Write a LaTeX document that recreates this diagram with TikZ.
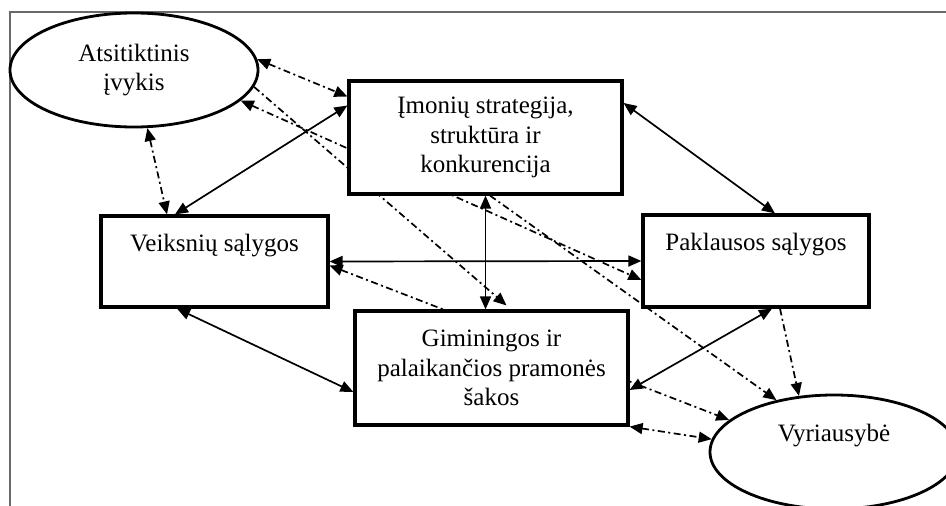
\documentclass[tikz,border=0pt]{standalone}
\usepackage{fontspec}
\setmainfont{Liberation Serif}
\usetikzlibrary{arrows.meta,shapes.geometric,backgrounds}

\definecolor{framegray}{RGB}{105,105,105}
\tikzset{
  box/.style={draw, line width=3.2pt, fill=white, inner sep=0pt, align=center,
    font=\fontsize{25}{29.5}\selectfont},
  oval/.style={ellipse, draw, line width=2.8pt, fill=white, inner sep=0pt, align=center,
    minimum width=248pt, minimum height=114pt, font=\fontsize{25}{29.5}\selectfont},
  link/.style={line width=1.7pt},
  infl/.style={line width=1.7pt, dash pattern=on 7pt off 3.5pt on 2pt off 3.5pt},
  frame/.style={draw=framegray, line width=2.4pt}
}

\begin{document}
\begin{tikzpicture}[x=1pt,y=-1pt,>={Triangle[length=13pt,width=11pt]}]
\useasboundingbox (0,0) rectangle (946,506);
\draw[frame] (10,506) -- (10,12) -- (946,12);

% determinants and outside forces
\node[oval] (chance) at (134,70) {Atsitiktinis\\ įvykis};
\node[oval] (gov) at (834,452) {Vyriausybė\\ \strut};
\node[box, minimum width=273pt, minimum height=113pt] (firm) at (485.5,137.5) {Įmonių strategija,\\ struktūra ir\\ konkurencija};
\node[box, minimum width=227pt, minimum height=91pt] (factor) at (214.5,261.5) {Veiksnių sąlygos\\ \strut};
\node[box, minimum width=226pt, minimum height=92pt] (demand) at (756,261) {Paklausos sąlygos\\ \strut};
\node[box, minimum width=273pt, minimum height=114pt] (related) at (491.5,368) {Giminingos ir\\ palaikančios pramonės\\ šakos};

\begin{scope}[on background layer]
% diamond
\draw[link,<->] ([xshift=-39.5pt]factor.north) -- ([yshift=32pt]firm.west);
\draw[link,<->] ([yshift=34.5pt]firm.east) -- ([xshift=19pt]demand.north);
\draw[link,<->] (factor.east) -- (demand.west);
\draw[link,<->] (firm.south) -- (firm.south |- related.north);
\draw[link,<->] ([xshift=-37.5pt]factor.south) -- ([yshift=-24pt]related.west);
\draw[link,<->] ([yshift=-22pt]related.east) -- ([xshift=16pt]demand.south);

% chance and government
\draw[infl,<->] (chance.-77) -- ([xshift=-47.5pt]factor.north);
\draw[infl,<->] (chance.5) -- ([yshift=41pt]firm.west);
\draw[infl,->] (chance.-8) -- ([xshift=15pt,yshift=4pt]related.north);
\draw[infl,<->] (chance.-16) -- ([yshift=-19pt]demand.west);
\draw[infl,<->] ([yshift=-4pt]factor.east) -- (gov.163);
\draw[infl,->] ([xshift=4.5pt]firm.south) -- (gov.138);
\draw[infl,->] ([xshift=24pt]demand.south) -- (gov.122);
\draw[infl,<->] (related.south east) -- (gov.174);
\end{scope}
\end{tikzpicture}
\end{document}
